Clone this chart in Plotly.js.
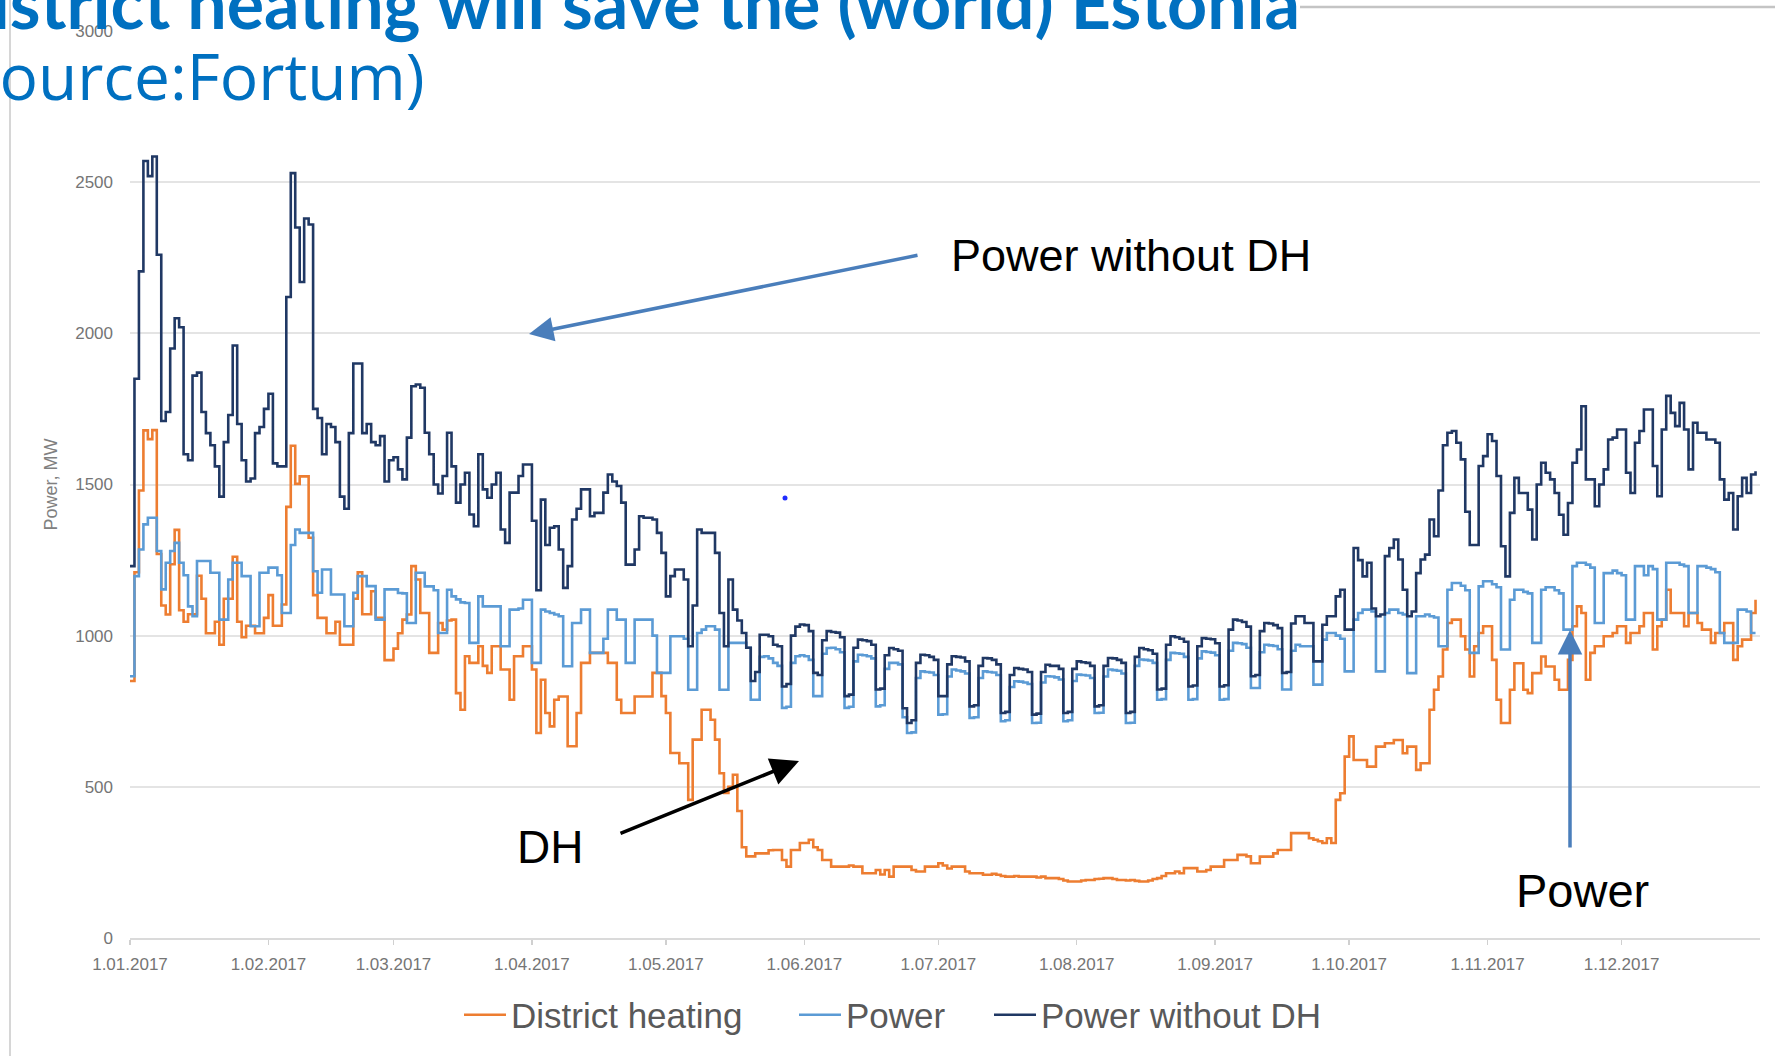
<!DOCTYPE html>
<html>
<head>
<meta charset="utf-8">
<script src="https://cdn.plot.ly/plotly-3.0.1.min.js"></script>
<style>
html, body { margin: 0; padding: 0; background: #ffffff; }
#chart { width: 1775px; height: 1056px; }
</style>
</head>
<body>
<div id="chart"></div>
<script>
// ---- Data (daily values, MW, year 2017) ----
const startYear = 2017;

const districtHeating = [
  850, 1210, 1480, 1679, 1650, 1680, 1270,
  1100, 1070, 1236, 1350, 1084, 1046, 1071,
  1071, 1198, 1122, 1008, 1008, 1046, 970,
  1122, 1122, 1261, 1046, 995, 1033, 1033,
  1008, 1008, 1059, 1134, 1033, 1033, 1103,
  1426, 1628, 1502, 1527, 1527, 1324, 1134,
  1059, 1059, 1008, 1008, 1046, 970, 970,
  970, 1122, 1210, 1071, 1071, 1147, 1059,
  1059, 919, 919, 957, 1008, 1053, 1070,
  1230, 1186, 1075, 1075, 943, 943, 1042,
  1020, 1050, 1053, 810, 755, 932, 910,
  910, 965, 900, 877, 965, 965, 888,
  888, 788, 932, 932, 965, 965, 888,
  678, 854, 744, 700, 788, 799, 799,
  634, 634, 744, 910, 910, 943, 943,
  943, 943, 910, 910, 788, 744, 744,
  744, 799, 799, 799, 799, 877, 877,
  800, 744, 612, 612, 578, 578, 457,
  656, 656, 755, 755, 722, 656, 545,
  480, 500, 540, 420, 300, 270, 270,
  280, 280, 280, 290, 291, 291, 258,
  236, 291, 291, 314, 314, 325, 300,
  291, 258, 258, 236, 236, 236, 236,
  240, 236, 236, 214, 214, 214, 225,
  210, 225, 203, 236, 236, 236, 236,
  225, 220, 220, 236, 236, 236, 247,
  240, 230, 236, 236, 236, 220, 214,
  214, 214, 209, 209, 212, 209, 205,
  203, 203, 205, 203, 203, 203, 203,
  200, 203, 198, 198, 198, 195, 190,
  187, 187, 187, 190, 192, 192, 195,
  196, 198, 198, 195, 192, 192, 190,
  192, 189, 187, 187, 190, 195, 198,
  205, 214, 214, 220, 214, 231, 231,
  231, 220, 220, 225, 236, 236, 236,
  258, 258, 258, 275, 275, 270, 247,
  247, 269, 269, 269, 280, 291, 291,
  291, 347, 347, 347, 347, 330, 325,
  320, 314, 330, 314, 457, 479, 600,
  667, 589, 589, 589, 567, 567, 633,
  633, 644, 644, 655, 655, 611, 633,
  633, 556, 578, 578, 755, 821, 865,
  954, 1042, 1053, 1053, 998, 954, 865,
  965, 1009, 1031, 1031, 920, 788, 711,
  711, 821, 909, 909, 821, 810, 876,
  876, 931, 898, 898, 854, 821, 821,
  920, 1031, 1097, 1075, 854, 943, 965,
  965, 998, 998, 1009, 1031, 1031, 976,
  1009, 1009, 1031, 1075, 1075, 954, 1031,
  1053, 1152, 1075, 1075, 1075, 1031, 1075,
  1075, 1042, 1020, 1020, 976, 1009, 1009,
  1042, 1042, 920, 965, 987, 987, 1075,
  1119
];

const power = [
  866, 1197, 1285, 1368, 1390, 1390, 1280,
  1153, 1241, 1280, 1307, 1241, 1200, 1097,
  1064, 1247, 1247, 1247, 1208, 1208, 1053,
  1053, 1186, 1241, 1241, 1197, 1197, 1031,
  1031, 1208, 1208, 1225, 1225, 1200, 1075,
  1075, 1300, 1351, 1340, 1340, 1340, 1213,
  1142, 1219, 1219, 1136, 1136, 1136, 1031,
  1031, 1142, 1197, 1197, 1164, 1164, 1053,
  1053, 1153, 1153, 1153, 1141, 1140, 1042,
  1042, 1208, 1208, 1163, 1163, 1150, 1009,
  1009, 1152, 1130, 1120, 1110, 1108, 976,
  976, 1130, 1097, 1097, 1097, 1097, 965,
  965, 1086, 1086, 1090, 1119, 1119, 910,
  910, 1086, 1080, 1075, 1070, 1064, 899,
  899, 1042, 1042, 1086, 1086, 943, 943,
  943, 990, 1086, 1086, 1053, 1053, 910,
  910, 1053, 1053, 1053, 1053, 1000, 877,
  877, 877, 998, 998, 998, 990, 821,
  821, 1009, 1020, 1031, 1031, 1020, 821,
  821, 976, 976, 976, 976, 960, 788,
  788, 930, 932, 925, 910, 900, 761,
  765, 910, 932, 935, 932, 920, 800,
  800, 940, 959, 960, 955, 945, 761,
  765, 915, 937, 935, 932, 925, 766,
  770, 890, 910, 910, 905, 730, 678,
  680, 860, 882, 880, 878, 870, 739,
  740, 865, 888, 885, 882, 875, 728,
  730, 860, 882, 880, 878, 870, 717,
  720, 830, 849, 848, 845, 840, 711,
  712, 845, 866, 865, 862, 855, 717,
  720, 850, 871, 870, 868, 860, 744,
  745, 865, 888, 886, 884, 875, 711,
  712, 900, 921, 920, 918, 910, 788,
  790, 920, 943, 942, 940, 930, 788,
  790, 925, 948, 946, 944, 935, 788,
  790, 950, 976, 975, 972, 960, 827,
  827, 945, 970, 968, 966, 955, 822,
  822, 950, 970, 965, 965, 965, 838,
  838, 987, 1009, 1009, 1000, 990, 882,
  882, 1053, 1075, 1086, 1086, 1080, 882,
  882, 1075, 1086, 1086, 1075, 1070, 876,
  876, 1064, 1064, 1070, 1064, 1060, 965,
  965, 1152, 1174, 1174, 1165, 1150, 943,
  943, 1163, 1180, 1180, 1170, 1160, 954,
  954, 1119, 1152, 1152, 1145, 1140, 976,
  976, 1152, 1160, 1160, 1150, 1140, 1020,
  1020, 1230, 1241, 1241, 1235, 1225, 1042,
  1042, 1207, 1207, 1215, 1207, 1200, 1053,
  1053, 1230, 1230, 1200, 1230, 1220, 1053,
  1053, 1241, 1241, 1241, 1235, 1230, 1075,
  1075, 1230, 1230, 1225, 1220, 1210, 1009,
  976, 976, 976, 1086, 1086, 1080, 1009,
  1009
];

const powerWithoutDH = [
  1230, 1850, 2205, 2570, 2520, 2585, 2260,
  1710, 1740, 1950, 2050, 2020, 1600, 1580,
  1860, 1870, 1740, 1670, 1630, 1560, 1460,
  1640, 1730, 1960, 1700, 1580, 1510, 1520,
  1670, 1690, 1750, 1800, 1570, 1560, 1560,
  2120, 2530, 2350, 2170, 2380, 2360, 1750,
  1720, 1600, 1700, 1690, 1640, 1460, 1420,
  1670, 1900, 1900, 1670, 1700, 1640, 1630,
  1660, 1510, 1580, 1590, 1550, 1517, 1655,
  1825, 1831, 1820, 1671, 1600, 1500, 1470,
  1528, 1671, 1560, 1440, 1500, 1539, 1401,
  1362, 1600, 1484, 1456, 1500, 1539, 1351,
  1307, 1473, 1473, 1528, 1566, 1566, 1380,
  1150, 1450, 1300, 1357, 1362, 1285, 1158,
  1230, 1384, 1420, 1484, 1484, 1395, 1406,
  1406, 1473, 1533, 1510, 1495, 1440, 1235,
  1235, 1285, 1395, 1390, 1390, 1384, 1340,
  1274, 1130, 1197, 1219, 1219, 1186, 965,
  1100, 1351, 1340, 1340, 1340, 1274, 1075,
  965, 1186, 1086, 1050, 1009, 960, 850,
  880, 1003, 1003, 998, 970, 965, 832,
  840, 1000, 1030, 1037, 1035, 1015, 877,
  870, 985, 1015, 1012, 1010, 995, 800,
  805, 960, 987, 985, 982, 970, 822,
  825, 935, 959, 955, 950, 760, 711,
  720, 910, 937, 935, 930, 920, 800,
  800, 905, 932, 930, 928, 915, 766,
  770, 900, 926, 925, 920, 905, 744,
  748, 870, 893, 890, 888, 880, 739,
  742, 880, 904, 900, 900, 890, 744,
  748, 890, 915, 912, 910, 900, 766,
  770, 900, 926, 925, 920, 910, 744,
  748, 930, 959, 955, 952, 940, 822,
  825, 970, 998, 995, 990, 980, 832,
  835, 965, 992, 990, 988, 975, 832,
  836, 1020, 1053, 1050, 1045, 1030, 866,
  870, 1015, 1042, 1040, 1035, 1025, 877,
  880, 1040, 1064, 1064, 1042, 1042, 915,
  915, 1036, 1064, 1064, 1130, 1152, 1020,
  1020, 1290, 1250, 1196, 1241, 1090, 1064,
  1070, 1263, 1290, 1318, 1252, 1152, 1064,
  1080, 1207, 1252, 1268, 1384, 1329, 1480,
  1630, 1671, 1677, 1638, 1583, 1410, 1300,
  1300, 1561, 1594, 1666, 1644, 1528, 1296,
  1196, 1406, 1522, 1472, 1472, 1417, 1318,
  1500, 1572, 1539, 1517, 1472, 1400, 1334,
  1439, 1572, 1616, 1759, 1517, 1517, 1428,
  1500, 1550, 1649, 1655, 1682, 1682, 1539,
  1472, 1638, 1677, 1748, 1748, 1561, 1461,
  1682, 1793, 1737, 1693, 1770, 1682, 1550,
  1704, 1671, 1671, 1649, 1649, 1638, 1517,
  1450, 1472, 1351, 1461, 1522, 1472, 1533,
  1544
];

const seriesNames = ['District heating', 'Power', 'Power without DH'];
const seriesColors = ['#ED7D31', '#5B9BD5', '#203864'];

const tickDates = ['2017-01-01', '2017-02-01', '2017-03-01', '2017-04-01', '2017-05-01', '2017-06-01',
                   '2017-07-01', '2017-08-01', '2017-09-01', '2017-10-01', '2017-11-01', '2017-12-01'];
const tickLabels = ['1.01.2017', '1.02.2017', '1.03.2017', '1.04.2017', '1.05.2017', '1.06.2017',
                    '1.07.2017', '1.08.2017', '1.09.2017', '1.10.2017', '1.11.2017', '1.12.2017'];
const yTicks = [0, 500, 1000, 1500, 2000, 2500, 3000];

const titleText = 'District heating will save the (world) Estonia';
const subtitleText = '(source:Fortum)';
const yTitle = 'Power, MW';
const calloutTexts = ['Power without DH', 'DH', 'Power'];

// ---- Build x values (one per day) ----
function dailyDates(n) {
  const out = [];
  for (let i = 0; i < n; i++) {
    const d = new Date(Date.UTC(startYear, 0, 1 + i));
    out.push(d.toISOString().slice(0, 10));
  }
  return out;
}
const dates = dailyDates(districtHeating.length);
const seriesValues = [districtHeating, power, powerWithoutDH];
const legendIds = ['legend', 'legend2', 'legend3'];

const traces = seriesValues.map((vals, i) => ({
  type: 'scatter',
  mode: 'lines',
  name: seriesNames[i],
  x: dates,
  y: vals,
  line: { color: seriesColors[i], width: 2.6, shape: 'hv' },
  legend: legendIds[i],
  hoverinfo: 'skip'
}));

// pixel helpers for the plot frame (plot area: x 130..1760, y 31..938)
const PL = 130, PW = 1630, PB = 938, PH = 907;
const px = v => (v - PL) / PW;
const py = v => (PB - v) / PH;

const legendCommon = {
  orientation: 'h',
  yanchor: 'middle',
  y: py(1015),
  xanchor: 'left',
  bgcolor: 'rgba(0,0,0,0)',
  borderwidth: 0,
  itemwidth: 42,
  font: { family: 'Liberation Sans, Arial, sans-serif', size: 35, color: '#595959' }
};

const layout = {
  width: 1775,
  height: 1056,
  margin: { l: 130, r: 15, t: 31, b: 118 },
  paper_bgcolor: '#ffffff',
  plot_bgcolor: '#ffffff',
  font: { family: 'Liberation Sans, Arial, sans-serif', color: '#757575' },
  showlegend: true,
  title: {
    text: '<b>' + titleText + '</b>',
    font: { family: 'Lato, Open Sans, sans-serif', size: 70, color: '#0070C0' },
    xref: 'container', x: 1300 / 1775, xanchor: 'right',
    yref: 'container', y: 1 - 29 / 1056, yanchor: 'bottom'
  },
  xaxis: {
    type: 'date',
    range: ['2017-01-01', '2018-01-01'],
    tickmode: 'array',
    tickvals: tickDates,
    ticktext: tickLabels,
    showgrid: false,
    zeroline: false,
    showline: true,
    linecolor: '#dadada',
    linewidth: 2,
    ticks: 'outside',
    ticklen: 5,
    tickwidth: 1.5,
    tickcolor: '#d0d0d0',
    ticklabelstandoff: 5,
    tickfont: { family: 'Liberation Sans, Arial, sans-serif', size: 17, color: '#757575' },
    fixedrange: true
  },
  yaxis: {
    range: [0, 3000],
    tickmode: 'array',
    tickvals: yTicks,
    showgrid: true,
    gridcolor: '#e4e4e4',
    gridwidth: 2,
    zeroline: false,
    showline: false,
    ticks: '',
    ticklabelstandoff: 16,
    tickfont: { family: 'Liberation Sans, Arial, sans-serif', size: 17, color: '#757575' },
    title: { text: yTitle, font: { family: 'Liberation Sans, Arial, sans-serif', size: 18, color: '#808080' }, standoff: 12 },
    fixedrange: true
  },
  legend: Object.assign({}, legendCommon, { x: px(459) }),
  legend2: Object.assign({}, legendCommon, { x: px(794) }),
  legend3: Object.assign({}, legendCommon, { x: px(989) }),
  shapes: [
    // slide frame line at left
    { type: 'line', xref: 'paper', yref: 'paper', x0: px(10), x1: px(10), y0: py(0), y1: py(1056),
      line: { color: '#d6d6d6', width: 2 }, layer: 'below' },
    // slide title rule at top right
    { type: 'line', xref: 'paper', yref: 'paper', x0: px(1300), x1: px(1775), y0: py(7), y1: py(7),
      line: { color: '#c4c4c4', width: 2.5 } },
    // small stray blue dot
    { type: 'circle', xref: 'paper', yref: 'paper', xsizemode: 'pixel', ysizemode: 'pixel',
      xanchor: px(785), yanchor: py(498), x0: -2.5, x1: 2.5, y0: -2.5, y1: 2.5,
      fillcolor: '#1f2cff', line: { width: 0 } }
  ],
  annotations: [
    { text: subtitleText, xref: 'paper', yref: 'paper', x: px(427), y: py(76), xanchor: 'right', yanchor: 'middle',
      showarrow: false, font: { family: 'Open Sans, Lato, sans-serif', size: 64, color: '#0070C0' } },
    { text: calloutTexts[0], xref: 'paper', yref: 'paper', x: px(1131), y: py(255), xanchor: 'center', yanchor: 'middle',
      showarrow: false, font: { family: 'Liberation Sans, Arial, sans-serif', size: 45, color: '#000000' } },
    { text: '', xref: 'paper', yref: 'paper', x: px(529), y: py(334), ax: 919 - 529, ay: 255 - 334,
      showarrow: true, arrowhead: 2, arrowsize: 1.4, arrowwidth: 3.5, arrowcolor: '#4a7ebb', standoff: 0 },
    { text: calloutTexts[1], xref: 'paper', yref: 'paper', x: px(550), y: py(847), xanchor: 'center', yanchor: 'middle',
      showarrow: false, font: { family: 'Liberation Sans, Arial, sans-serif', size: 46, color: '#000000' } },
    { text: '', xref: 'paper', yref: 'paper', x: px(799), y: py(761), ax: 619 - 799, ay: 834 - 761,
      showarrow: true, arrowhead: 2, arrowsize: 1.6, arrowwidth: 3.5, arrowcolor: '#000000', standoff: 0 },
    { text: calloutTexts[2], xref: 'paper', yref: 'paper', x: px(1582), y: py(890), xanchor: 'center', yanchor: 'middle',
      showarrow: false, font: { family: 'Liberation Sans, Arial, sans-serif', size: 47, color: '#000000' } },
    { text: '', xref: 'paper', yref: 'paper', x: px(1570), y: py(630), ax: 0, ay: 849 - 630,
      showarrow: true, arrowhead: 2, arrowsize: 1.4, arrowwidth: 3.5, arrowcolor: '#4a7ebb', standoff: 0 }
  ]
};

Plotly.newPlot('chart', traces, layout, { displayModeBar: false, staticPlot: true });
</script>
</body>
</html>
